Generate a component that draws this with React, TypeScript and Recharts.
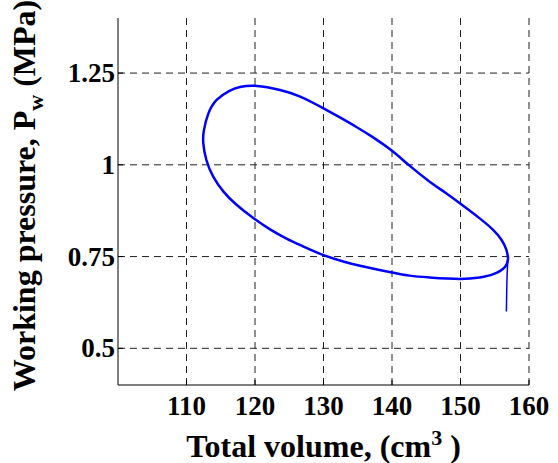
import * as React from 'react';
import { LineChart, Line, XAxis, YAxis, CartesianGrid } from 'recharts';

// P-V loop (volume in cm^3, pressure in MPa)
const loopVolume = [
  156.95, 156.7, 156.0, 154.8, 152.8, 149.9, 147.7, 145.5, 142.6, 140.0, 137.3, 134.8, 132.4, 130.0,
  126.6, 123.65, 120.3, 117.8, 116.2, 114.4, 113.2, 112.55, 112.45, 112.9, 113.9, 115.4, 117.3, 119.75,
  122.2, 124.6, 127.0, 130.0, 133.0, 135.5, 138.0, 140.2, 142.6, 145.5, 149.9, 152.8, 154.8, 156.5,
  156.95,
];
const loopPressure = [
  0.745, 0.768, 0.795, 0.822, 0.854, 0.895, 0.925, 0.954, 0.997, 1.038, 1.074, 1.103, 1.129, 1.154,
  1.186, 1.204, 1.215, 1.212, 1.201, 1.177, 1.14, 1.095, 1.059, 1.013, 0.968, 0.927, 0.891, 0.855,
  0.824, 0.799, 0.778, 0.754, 0.736, 0.724, 0.714, 0.706, 0.698, 0.693, 0.689, 0.693, 0.702, 0.722,
  0.745,
];
// start-up tail below the loop
const tailVolume = [156.7, 156.75, 156.8, 156.9, 156.95];
const tailPressure = [0.6, 0.66, 0.7, 0.735, 0.745];

const xDomain = [100, 160];
const yDomain = [0.4, 1.4];
const xTicks = [110, 120, 130, 140, 150, 160];
const yTicks = [0.5, 0.75, 1, 1.25];

const loopData = loopVolume.map((v, i) => ({ v, p: loopPressure[i] }));
const tailData = tailVolume.map((v, i) => ({ v, p: tailPressure[i] }));

const FONT = '"Liberation Serif"';
const TICK_LEN = 5;
const tickFont: React.CSSProperties = { fontFamily: FONT, fontWeight: 700, fontSize: 27 };
const titleFont: React.CSSProperties = { fontFamily: FONT, fontWeight: 700, fontSize: 32 };

const BottomTick = ({ x, y }: any) => <line x1={x} x2={x} y1={y} y2={y - TICK_LEN} stroke="#000" />;

const LeftTick = ({ x, y, payload }: any) => (
  <g>
    <line x1={x} x2={x + TICK_LEN} y1={y} y2={y} stroke="#000" />
    <text x={x - 3} y={y + 9} textAnchor="end" style={tickFont} fill="#000">
      {payload.value}
    </text>
  </g>
);

const TopTick = ({ x, y }: any) => <line x1={x} x2={x} y1={y} y2={y + TICK_LEN} stroke="#000" />;
const RightTick = ({ x, y }: any) => <line x1={x} x2={x - TICK_LEN} y1={y} y2={y} stroke="#000" />;

// x tick labels + axis title, placed along the x axis viewBox
const XTitle = ({ viewBox }: any) => {
  const cx = viewBox.x + viewBox.width / 2;
  const toX = (t: number) => viewBox.x + ((t - xDomain[0]) / (xDomain[1] - xDomain[0])) * viewBox.width;
  return (
    <g>
      {xTicks.map((t) => (
        <text key={t} x={toX(t)} y={viewBox.y + 30} textAnchor="middle" style={tickFont} fill="#000">
          {t}
        </text>
      ))}
      <text x={cx} y={viewBox.y + 72} textAnchor="middle" style={titleFont} fill="#000">
        Total volume, (cm
        <tspan fontSize={22} dy={-12}>3</tspan>
        <tspan dy={12}> )</tspan>
      </text>
    </g>
  );
};

const YTitle = ({ viewBox }: any) => {
  const cy = viewBox.y + viewBox.height / 2 - 6;
  const bx = 35;
  return (
    <text x={bx} y={cy} transform={`rotate(-90 ${bx} ${cy})`} textAnchor="middle" style={titleFont} fill="#000">
      Working pressure, P
      <tspan fontSize={22} dy={8}>w</tspan>
      <tspan dy={-8}> (MPa)</tspan>
    </text>
  );
};

export default function App() {
  return (
    <div style={{ position: 'absolute', left: 0, top: 0, background: '#fff' }}>
      <LineChart width={558} height={463} margin={{ top: 18, right: 29, left: 0, bottom: 0 }}>
        <CartesianGrid stroke="#222" strokeDasharray="7 5" horizontalValues={yTicks} verticalValues={xTicks} />
        <XAxis
          type="number"
          dataKey="v"
          domain={xDomain}
          ticks={xTicks}
          allowDataOverflow
          height={78}
          tickSize={0}
          tickMargin={0}
          tick={(p: any) => <BottomTick {...p} />}
          axisLine={{ stroke: '#000' }}
          label={{ content: <XTitle /> }}
          interval={0}
        />
        <XAxis
          xAxisId="top"
          orientation="top"
          type="number"
          dataKey="v"
          domain={xDomain}
          ticks={xTicks}
          allowDataOverflow
          height={0}
          tickSize={0}
          tickMargin={0}
          tick={(p: any) => <TopTick {...p} />}
          axisLine={{ stroke: '#000' }}
          interval={0}
        />
        <YAxis
          type="number"
          dataKey="p"
          domain={yDomain}
          ticks={yTicks}
          allowDataOverflow
          width={118}
          tickSize={0}
          tickMargin={0}
          tick={(p: any) => <LeftTick {...p} />}
          axisLine={{ stroke: '#000' }}
          label={{ content: <YTitle /> }}
          interval={0}
        />
        <YAxis
          yAxisId="right"
          orientation="right"
          type="number"
          dataKey="p"
          domain={yDomain}
          ticks={yTicks}
          allowDataOverflow
          width={0}
          tickSize={0}
          tickMargin={0}
          tick={(p: any) => <RightTick {...p} />}
          axisLine={{ stroke: '#000' }}
          interval={0}
        />
        <Line
          data={loopData}
          dataKey="p"
          type="natural"
          stroke="#0000ff"
          strokeWidth={2.5}
          dot={false}
          isAnimationActive={false}
        />
        <Line
          data={tailData}
          dataKey="p"
          type="linear"
          stroke="#0000ff"
          strokeWidth={1.5}
          dot={false}
          isAnimationActive={false}
        />
      </LineChart>
    </div>
  );
}
